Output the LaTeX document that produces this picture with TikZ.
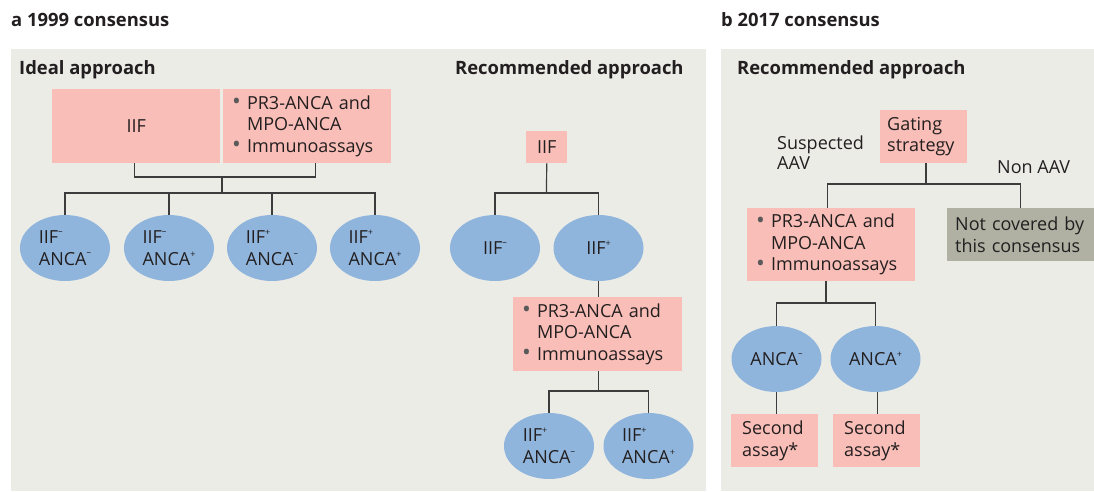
\documentclass[tikz,border=0pt]{standalone}
\usepackage{fontspec}
\setmainfont{Open Sans}
\usetikzlibrary{shapes.geometric,calc}
\definecolor{bgc}{HTML}{ECECE7}
\definecolor{pinkc}{HTML}{F9BEB7}
\definecolor{bluec}{HTML}{8FB5DC}
\definecolor{grayc}{HTML}{B1B1A3}
\definecolor{linec}{HTML}{3C3C3C}
\definecolor{txt}{HTML}{231F20}
\definecolor{bulc}{HTML}{5A5A5A}
\newcommand{\bodyf}{\fontsize{18}{21.5}\selectfont}
\newcommand{\headf}{\fontsize{18.4}{21}\selectfont\bfseries}
\newcommand{\spm}{\raisebox{0.95ex}{\fontsize{9}{9}\selectfont –}}
\newcommand{\spp}{\raisebox{0.8ex}{\fontsize{9}{9}\selectfont +}}
\newcommand{\bul}{{\color{bulc}\raisebox{-0.6pt}{\scalebox{1.3}{\textbullet}}}\ }
\newcommand{\bulph}{\hphantom{\scalebox{1.3}{\textbullet}\ }}
\begin{document}
\begin{tikzpicture}[x=1pt,y=-1pt,
  box/.style={inner sep=0pt, anchor=north west, text=txt, font=\bodyf, align=left},
  pinkbox/.style={box, fill=pinkc},
  graybox/.style={box, fill=grayc},
  ell/.style={ellipse, fill=bluec, minimum width=90pt, minimum height=66pt, inner sep=0pt, align=left, text=txt, font=\bodyf},
  conn/.style={draw=linec, line width=1.2pt},
  head/.style={anchor=base west, font=\headf, text=txt, inner sep=0pt},
  lab/.style={anchor=base west, font=\bodyf, text=txt, inner sep=0pt, align=left}]
\useasboundingbox (0,0) rectangle (1094,491);
\fill[white] (0,0) rectangle (1094,491);
% panels
\fill[bgc] (11,49) rectangle (706,491);
\fill[bgc] (721,49) rectangle (1094,491);
% headings
\node[head] (ta) at (11,26) {a 1999 consensus};
\node[head] (tb) at (721,26) {b 2017 consensus};
\node[head] (ha1) at (19,74) {Ideal approach};
\node[head] (ha2) at (455,74) {Recommended approach};
\node[head] (hb) at (737,74) {Recommended approach};

% ---- Ideal approach
\node[pinkbox, minimum width=168pt, minimum height=74pt, align=center] (iif) at (52,89) {IIF};
\node[pinkbox, text width=150pt, inner xsep=9pt, minimum height=74pt] (ib) at (223,89)
  {\bul PR3-ANCA and\\\bulph MPO-ANCA\\\bul Immunoassays};
\coordinate (j1) at (222,177);
\coordinate (j2) at (222,193);
\node[ell] (e1) at (65,248) {IIF\spm\\ANCA\spm};
\node[ell] (e2) at (169,248) {IIF\spm\\ANCA\spp};
\node[ell] (e3) at (272,248) {IIF\spp\\ANCA\spm};
\node[ell] (e4) at (375,248) {IIF\spp\\ANCA\spp};
\draw[conn] ([xshift=-2pt]iif.south) |- (j1) -| ([xshift=8pt]ib.south);
\draw[conn] (j1) -- (j2);
\draw[conn] (e1.north) |- (j2) -| (e4.north);
\draw[conn] (j2 -| e2.north) -- (e2.north);
\draw[conn] (j2 -| e3.north) -- (e3.north);

% ---- Recommended approach (1999)
\node[pinkbox, minimum width=41pt, minimum height=32pt, align=center] (riif) at (526,131) {IIF};
\coordinate (r1) at (546.5,193);
\node[ell] (rn) at (495,248) {IIF\spm};
\node[ell] (rp) at (598.5,248) {IIF\spp};
\draw[conn] (riif.south) -- (r1);
\draw[conn] (rn.north) |- (r1) -| (rp.north);
\node[pinkbox, text width=151pt, inner xsep=9pt, minimum height=74pt] (rb) at (513,297)
  {\bul PR3-ANCA and\\\bulph MPO-ANCA\\\bul Immunoassays};
\draw[conn] (rp.south) -- (rp.south |- rb.north);
\coordinate (r2) at (598.5,391);
\node[ell] (rpn) at (549,446) {IIF\spp\\ANCA\spm};
\node[ell] (rpp) at (648.5,446) {IIF\spp\\ANCA\spp};
\draw[conn] (rb.south -| r2) -- (r2);
\draw[conn] (rpn.north) |- (r2) -| (rpp.north);

% ---- 2017 consensus
\node[pinkbox, text width=73pt, inner xsep=7pt, minimum height=53pt] (gate) at (880,110)
  {Gating\\strategy};
\coordinate (g1) at (926,184);
\node[pinkbox, text width=150pt, inner xsep=9pt, minimum height=73pt] (bb) at (747,208)
  {\bul PR3-ANCA and\\\bulph MPO-ANCA\\\bul Immunoassays};
\node[graybox, text width=131pt, inner xsep=8pt, minimum height=53pt] (nc) at (947,208)
  {Not covered by\\this consensus};
\draw[conn] (gate.south -| g1) -- (g1);
\draw[conn] ([xshift=-4pt]bb.north) |- (g1) -| ([xshift=-0.5pt]nc.north);
\node[lab] (sus) at (777,169) {Suspected\\[-1.5pt]AAV};
\node[lab] (non) at (997,173) {Non AAV};
\coordinate (b1) at (826,303);
\node[ell] (an) at (776.5,359) {ANCA\spm};
\node[ell] (ap) at (875.5,359) {ANCA\spp};
\draw[conn] (bb.south -| b1) -- (b1);
\draw[conn] (an.north) |- (b1) -| (ap.north);
\node[pinkbox, text width=65pt, inner xsep=11pt, minimum height=53pt] (s1) at (731,414)
  {Second\\assay*};
\node[pinkbox, text width=65pt, inner xsep=11pt, minimum height=53pt] (s2) at (833,414)
  {Second\\assay*};
\draw[conn] (an.south) -- (an.south |- s1.north);
\draw[conn] ([xshift=2pt]ap.south) -- ([xshift=2pt]ap.south |- s2.north);
\end{tikzpicture}
\end{document}
